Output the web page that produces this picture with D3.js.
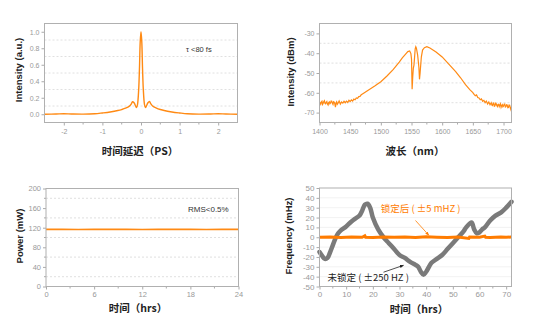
<!DOCTYPE html>
<html><head><meta charset="utf-8">
<script src="https://cdn.jsdelivr.net/npm/d3@7"></script>
<style>
html,body{margin:0;padding:0;background:#fff;}
svg{display:block;}
.tick text{font-family:"Liberation Sans",Arial,sans-serif;fill:#999;}
</style></head>
<body>
<svg id="c" width="553" height="327"></svg>
<script>
// ---------- Panel 1: autocorrelation ----------
const acDelay = [-2.5,-2.2,-2.0,-1.8,-1.5,-1.2,-1.0,-0.8,-0.6,-0.5,-0.4,-0.3,-0.25,-0.22,-0.18,-0.14,-0.115,-0.09,-0.06,-0.04,-0.02,0,0.02,0.04,0.06,0.09,0.115,0.14,0.18,0.22,0.25,0.3,0.4,0.5,0.6,0.8,1.0,1.2,1.5,1.8,2.0,2.2,2.5];
const acIntensity = [0.0,0.003,0.006,0.003,0.001,0.006,0.016,0.028,0.045,0.057,0.073,0.098,0.125,0.152,0.14,0.1,0.08,0.12,0.3,0.55,0.88,1.0,0.88,0.55,0.3,0.12,0.08,0.1,0.14,0.155,0.13,0.1,0.075,0.058,0.045,0.028,0.016,0.006,0.001,0.003,0.006,0.003,0.0];
const acXTicks = [-2,-1,0,1,2];
const acYTicks = [0.0,0.2,0.4,0.6,0.8,1.0];

// ---------- Panel 2: spectrum ----------
const specWavelength = [1400,1401,1402,1403,1404,1405,1406,1407,1408,1409,1410,1411,1412,1413,1414,1415,1416,1417,1418,1419,1420,1421,1422,1423,1424,1425,1426,1427,1428,1429,1430,1432,1434,1436,1438,1440,1442,1444,1446,1448,1450,1452,1454,1456,1458,1460,1462,1464,1466,1468,1470,1475,1480,1490,1500,1510,1520,1530,1535,1540,1544,1547,1549,1550,1551,1552,1553,1554,1555,1556,1557,1558,1560,1562,1563,1564,1566,1568,1571,1575,1580,1590,1600,1610,1622,1630,1638,1645,1650,1652,1654,1656,1658,1660,1662,1664,1666,1668,1670,1672,1674,1676,1678,1680,1681,1682,1683,1684,1685,1686,1687,1688,1689,1690,1691,1692,1693,1694,1695,1696,1697,1698,1699,1700,1701,1702,1703,1704,1705,1706,1707,1708,1709,1710,1711,1712,1713];
const specPower = [-64.5,-65.2,-65.8,-64.6,-64.2,-65.9,-65.3,-64.4,-64.0,-65.4,-65.6,-64.8,-64.4,-65.7,-66.2,-64.9,-64.6,-65.5,-65.1,-64.2,-64.3,-65.3,-65.9,-64.5,-64.7,-65.6,-67.2,-65.0,-64.5,-65.8,-65.4,-64.1,-65.7,-64.6,-65.2,-64.3,-65.0,-64.2,-64.9,-63.8,-64.4,-63.6,-64.2,-63.2,-63.5,-62.6,-62.8,-61.9,-61.8,-61.0,-60.6,-59.6,-58.6,-56.6,-54.4,-51.5,-48.3,-44.5,-42.4,-40.6,-39.2,-38.9,-40.2,-43.0,-58.2,-52.0,-47.5,-46.0,-42.0,-37.8,-36.7,-37.4,-41.0,-47.0,-53.2,-50.0,-42.0,-38.4,-37.2,-36.7,-37.4,-39.4,-41.9,-45.3,-49.3,-52.4,-55.9,-58.4,-59.9,-60.8,-61.5,-61.1,-62.4,-62.6,-63.5,-63.1,-64.3,-63.8,-65.0,-64.2,-65.6,-64.6,-66.0,-65.0,-66.2,-66.4,-65.4,-65.2,-66.8,-66.6,-65.3,-65.5,-66.4,-66.9,-65.9,-65.8,-67.0,-66.2,-65.6,-67.3,-66.4,-66.0,-67.1,-66.8,-65.8,-65.7,-67.2,-67.0,-66.0,-66.1,-67.5,-67.4,-66.2,-66.3,-67.6,-68.5,-67.0];
const specXTicks = [1400,1450,1500,1550,1600,1650,1700];
const specYTicks = [-70,-60,-50,-40,-30];

// ---------- Panel 3: power stability ----------
const powHours = [0,2,4,6,8,10,12,14,16,18,20,22,24];
const powValues = [116.5,116.6,116.4,116.5,116.6,116.5,116.4,116.5,116.6,116.5,116.4,116.5,116.5];
const powXTicks = [0,6,12,18,24];
const powYTicks = [0,40,80,120,160,200];

// ---------- Panel 4: frequency drift ----------
const unlockedHours = [0,1,2,3,4,5,6,7,8,10,12,14,15,16,17,18,19,20,22,24,26,28,30,32,34,36,37,38,39,40,42,44,46,48,50,52,54,55,57,58,59,60,61,62,64,66,68,70,72];
const unlockedFreq = [-15,-19,-22,-21,-15,-8,-1,4,7,11,16,20,22,27,33,34,30,20,8,0,-6,-12,-18,-21,-25,-28,-30,-35,-38,-35,-26,-22,-18,-12,-6,0,6,10,15,8,4,5,8,10,17,22,25,30,36];
const lockedHours = [0,4,8,12,16,17,17.3,20,24,28,32,36,40,44,48,52,56,56.3,60,62,62.3,64,68,70,72];
const lockedFreq = [0,0.3,-0.2,0.2,0,1.5,0,-0.3,0.2,0,0.3,-0.2,0.5,0,-0.3,0.2,-1.2,0.3,0,1.2,0,-0.2,0.3,0,0.2];
const freqXTicks = [0,10,20,30,40,50,60,70];
const freqYTicks = [-50,-40,-30,-20,-10,0,10,20,30,40,50];

const svg = d3.select("#c");
const ORANGE = "#ff8a14";

function frame(g, x, y, opt) {
  const [x0,x1] = x.range(), [y1,y0] = y.range();
  if (opt.dashGrid) {
    g.append("g").selectAll("line").data(opt.dashGrid).join("line")
      .attr("x1", x0).attr("x2", x1).attr("y1", d => y(d)).attr("y2", d => y(d))
      .attr("stroke", "#d8d8d8").attr("stroke-width", 0.8).attr("stroke-dasharray", "2,2");
  }
  if (opt.solidGrid) {
    g.append("g").selectAll("line").data(opt.solidGrid).join("line")
      .attr("x1", x0).attr("x2", x1).attr("y1", d => y(d)).attr("y2", d => y(d))
      .attr("stroke", "#efefef").attr("stroke-width", 0.8);
  }
  const ax = g.append("g").attr("transform", `translate(0,${y1})`)
    .call(d3.axisBottom(x).tickValues(opt.xTicks).tickSize(3).tickPadding(opt.xPad || 3).tickFormat(opt.xFmt || (d => d)));
  ax.select(".domain").remove();
  ax.selectAll("line").attr("stroke", "#aaa");
  ax.selectAll("text").attr("font-size", opt.tickFont || 7);
  if (opt.xMinor) {
    g.append("g").selectAll("line").data(opt.xMinor).join("line")
      .attr("x1", d => x(d)).attr("x2", d => x(d)).attr("y1", y1).attr("y2", y1 + 2)
      .attr("stroke", "#aaa");
  }
  const ay = g.append("g").attr("transform", `translate(${x0},0)`)
    .call(d3.axisLeft(y).tickValues(opt.yTicks).tickSize(3).tickPadding(2).tickFormat(opt.yFmt || (d => d)));
  ay.select(".domain").remove();
  ay.selectAll("line").attr("stroke", "#aaa");
  ay.selectAll("text").attr("font-size", opt.tickFont || 7);
  if (opt.yMinor) {
    g.append("g").selectAll("line").data(opt.yMinor).join("line")
      .attr("x1", x0 - 2).attr("x2", x0).attr("y1", d => y(d)).attr("y2", d => y(d))
      .attr("stroke", "#aaa");
  }
  g.append("text").attr("x", opt.xTitleX).attr("y", opt.xTitleY)
    .attr("text-anchor", "middle").attr("font-family", '"Noto Sans CJK SC",sans-serif')
    .attr("font-weight", "bold").attr("font-size", 10.5).attr("fill", "#222").text(opt.xTitle);
  g.append("text").attr("transform", `translate(${opt.yTitleX},${opt.yTitleY}) rotate(-90)`)
    .attr("text-anchor", "middle").attr("font-family", '"Liberation Sans",Arial,sans-serif')
    .attr("font-weight", "bold").attr("font-size", 9.5).attr("fill", "#222").text(opt.yTitle);
}
function box(g, x, y) {
  const [x0,x1] = x.range(), [y1,y0] = y.range();
  g.append("rect").attr("x", x0).attr("y", y0).attr("width", x1 - x0).attr("height", y1 - y0)
    .attr("fill", "none").attr("stroke", "#b0b0b0").attr("stroke-width", 1);
}

// ---- Panel 1
{
  const g = svg.append("g");
  const x = d3.scaleLinear().domain([-2.5, 2.5]).range([44.5, 237.5]);
  const y = d3.scaleLinear().domain([-0.1, 1.1]).range([122.5, 23.5]);
  frame(g, x, y, {xTicks: acXTicks, yTicks: acYTicks, yFmt: d3.format(".1f"), xPad: 4,
    dashGrid: [0.1,0.3,0.5,0.7,0.9], xMinor: [-1.5,-0.5,0.5,1.5],
    xTitle: "时间延迟（PS）", xTitleX: 140, xTitleY: 155,
    yTitle: "Intensity (a.u.)", yTitleX: 22, yTitleY: 70});
  const pts = acDelay.map((d, i) => [d, acIntensity[i]]);
  g.append("path").datum(pts).attr("fill", "none").attr("stroke", ORANGE).attr("stroke-width", 1.4)
    .attr("d", d3.line().x(d => x(d[0])).y(d => y(d[1])).curve(d3.curveCatmullRom));
  box(g, x, y);
  g.append("text").attr("x", 186).attr("y", 52).attr("font-family", '"Liberation Sans",Arial,sans-serif')
    .attr("font-size", 7.5).attr("fill", "#333").text("τ <80 fs");
}
// ---- Panel 2
{
  const g = svg.append("g");
  const x = d3.scaleLinear().domain([1400, 1713]).range([319.5, 511.5]);
  const y = d3.scaleLinear().domain([-75, -25]).range([122.5, 23.5]);
  frame(g, x, y, {xTicks: specXTicks, yTicks: specYTicks, xPad: 4,
    dashGrid: [-65,-55,-45,-35], xMinor: [1425,1475,1525,1575,1625,1675],
    xTitle: "波长（nm）", xTitleX: 415, xTitleY: 155,
    yTitle: "Intensity (dBm)", yTitleX: 294, yTitleY: 72});
  const pts = specWavelength.map((d, i) => [d, specPower[i]]);
  g.append("path").datum(pts).attr("fill", "none").attr("stroke", ORANGE).attr("stroke-width", 1.2)
    .attr("d", d3.line().x(d => x(d[0])).y(d => y(d[1])));
  box(g, x, y);
}
// ---- Panel 3
{
  const g = svg.append("g");
  const x = d3.scaleLinear().domain([0, 24]).range([46, 238.5]);
  const y = d3.scaleLinear().domain([0, 200]).range([286.5, 188.5]);
  frame(g, x, y, {xTicks: powXTicks, yTicks: powYTicks, tickFont: 7.5, xPad: 2,
    dashGrid: [20,60,100,140,180], xMinor: [3,9,15,21], yMinor: [20,60,100,140,180],
    xTitle: "时间（hrs）", xTitleX: 138, xTitleY: 312,
    yTitle: "Power (mW)", yTitleX: 23, yTitleY: 236});
  const pts = powHours.map((d, i) => [d, powValues[i]]);
  g.append("path").datum(pts).attr("fill", "none").attr("stroke", ORANGE).attr("stroke-width", 1.6)
    .attr("d", d3.line().x(d => x(d[0])).y(d => y(d[1])));
  box(g, x, y);
  g.append("text").attr("x", 188).attr("y", 212).attr("font-family", '"Liberation Sans",Arial,sans-serif')
    .attr("font-size", 8).attr("fill", "#333").text("RMS<0.5%");
}
// ---- Panel 4
{
  const g = svg.append("g");
  const x = d3.scaleLinear().domain([0, 72]).range([319.5, 511.5]);
  const y = d3.scaleLinear().domain([-50, 50]).range([286.5, 188]);
  frame(g, x, y, {xTicks: freqXTicks, yTicks: freqYTicks, tickFont: 8, xPad: 2,
    solidGrid: [-40,-30,-20,-10,10,20,30,40], xMinor: [5,15,25,35,45,55,65],
    xTitle: "时间（hrs）", xTitleX: 419, xTitleY: 313,
    yTitle: "Frequency (mHz)", yTitleX: 292, yTitleY: 236});
  const ug = unlockedHours.map((d, i) => [d, unlockedFreq[i]]);
  g.append("path").datum(ug).attr("fill", "none").attr("stroke", "#7a7a7a").attr("stroke-width", 4.5)
    .attr("stroke-linejoin", "round").attr("stroke-linecap", "round")
    .attr("d", d3.line().x(d => x(d[0])).y(d => y(d[1])).curve(d3.curveCatmullRom));
  const lg = lockedHours.map((d, i) => [d, lockedFreq[i]]);
  g.append("path").datum(lg).attr("fill", "none").attr("stroke", "#ff7c00").attr("stroke-width", 3)
    .attr("d", d3.line().x(d => x(d[0])).y(d => y(d[1])));
  box(g, x, y);
  const defs = svg.append("defs");
  [["ao", "#ff7c00"], ["ak", "#222"]].forEach(([id, c]) => {
    defs.append("marker").attr("id", id).attr("viewBox", "0 0 10 10").attr("refX", 9).attr("refY", 5)
      .attr("markerWidth", 5).attr("markerHeight", 5).attr("orient", "auto")
      .append("path").attr("d", "M0,1 L10,5 L0,9 Z").attr("fill", c);
  });
  g.append("text").attr("x", x(23)).attr("y", y(26)).attr("font-family", '"Noto Sans CJK SC",sans-serif')
    .attr("font-size", 9.5).attr("fill", "#ff7c00").text("锁定后 ( ±5 mHZ )");
  g.append("line").attr("x1", x(36)).attr("y1", y(17)).attr("x2", x(41)).attr("y2", y(2))
    .attr("stroke", "#ff7c00").attr("stroke-width", 0.8).attr("marker-end", "url(#ao)");
  g.append("text").attr("x", x(3)).attr("y", y(-44.5)).attr("font-family", '"Noto Sans CJK SC",sans-serif')
    .attr("font-size", 9.5).attr("fill", "#222").text("未锁定 ( ±250 HZ )");
  g.append("line").attr("x1", x(24)).attr("y1", y(-35.5)).attr("x2", x(31.5)).attr("y2", y(-28.5))
    .attr("stroke", "#222").attr("stroke-width", 0.8).attr("marker-end", "url(#ak)");
}
</script>
</body></html>
